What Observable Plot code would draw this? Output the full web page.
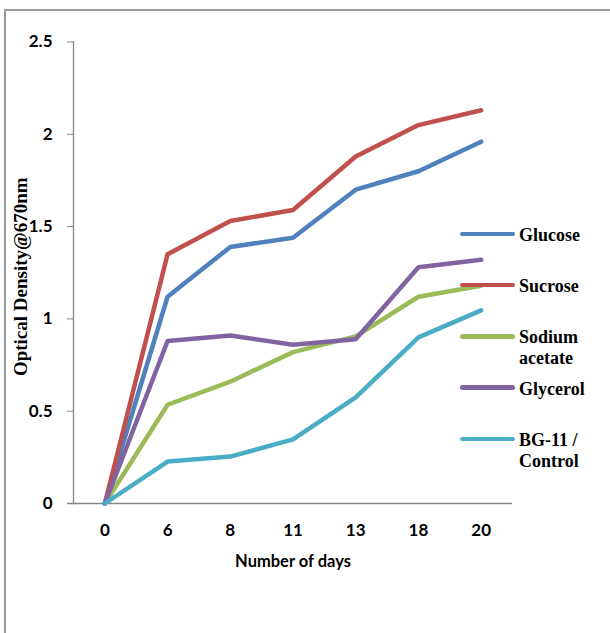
<!DOCTYPE html>
<html><head><meta charset="utf-8">
<script src="https://cdn.jsdelivr.net/npm/d3@7"></script>
<script src="https://cdn.jsdelivr.net/npm/@observablehq/plot@0.6"></script>
<style>
body{margin:0;background:#fff;}
#wrap{position:relative;width:610px;height:633px;overflow:hidden;background:#fff;}
#frame{position:absolute;left:4px;top:9px;width:800px;height:800px;border-top:2px solid #9a9a9a;border-left:2px solid #9a9a9a;}
#chart{position:absolute;left:0;top:0;}
#legend{position:absolute;left:460px;top:0;font-family:"Liberation Serif";font-weight:bold;font-size:18px;color:#000;}
.swatch{position:absolute;left:0;width:55px;height:4.5px;border-radius:3px;}
.lbl{position:absolute;left:59px;line-height:21px;white-space:nowrap;}
</style></head><body>
<div id="wrap"><div id="frame"></div><div id="chart"></div><div id="legend"></div></div>
<script>
const days = ["0","6","8","11","13","18","20"];
const seriesNames = ["Glucose","Sucrose","Sodium acetate","Glycerol","BG-11 / Control"];
const legendLabels = [["Glucose"],["Sucrose"],["Sodium","acetate"],["Glycerol"],["BG-11 /","Control"]];
const colors = ["#4F81BD","#C0504D","#9BBB59","#8064A2","#4BACC6"];
const glucose = [0,1.12,1.39,1.44,1.70,1.80,1.96];
const sucrose = [0,1.35,1.53,1.59,1.88,2.05,2.13];
const sodiumAcetate = [0,0.535,0.66,0.82,0.905,1.12,1.18];
const glycerol = [0,0.88,0.91,0.86,0.89,1.28,1.32];
const bg11 = [0,0.227,0.254,0.347,0.575,0.90,1.046];
const yTicks = [0,0.5,1,1.5,2,2.5];
const xTitle = "Number of days";
const yTitle = "Optical Density@670nm";

const allSeries = [glucose, sucrose, sodiumAcetate, glycerol, bg11];
const data = [];
allSeries.forEach((vals,i)=>vals.forEach((v,j)=>data.push({day:days[j], value:v, series:seriesNames[i]})));

const axisColor = "#868686";
const tickFont = "Lato, 'Open Sans', sans-serif";
const plot = Plot.plot({
  width:610, height:633,
  marginLeft:73, marginRight:98, marginTop:41.5, marginBottom:130,
  x:{type:"point", domain:days, padding:0.5, round:false},
  y:{domain:[0,2.5]},
  color:{domain:seriesNames, range:colors},
  style:{background:"transparent", overflow:"visible"},
  marks:[
    Plot.frame({anchor:"left", stroke:axisColor, strokeWidth:1.3}),
    Plot.ruleY([0], {stroke:axisColor, strokeWidth:1.5, insetLeft:-6}),
    Plot.axisY({ticks:yTicks, tickSize:6, tickPadding:15, tickFormat:d=>String(d), stroke:axisColor, fontSize:17, fontWeight:"bold", fontFamily:tickFont, label:null}),
    Plot.axisX({tickSize:0, tickPadding:20, fontSize:17, fontWeight:"bold", fontFamily:tickFont, label:null}),
    Plot.line(data, {x:"day", y:"value", stroke:"series", z:"series", strokeWidth:4.5, strokeLinecap:"round", strokeLinejoin:"round"}),
    Plot.text([xTitle], {frameAnchor:"bottom", dy:58, lineAnchor:"middle", textAnchor:"middle", fontSize:16.5, fontWeight:"bold", fontFamily:tickFont, fill:"#000"}),
    Plot.text([yTitle], {frameAnchor:"left", rotate:-90, dx:-53, dy:4, lineAnchor:"middle", textAnchor:"middle", fontSize:19, fontWeight:"bold", fontFamily:"Liberation Serif", fill:"#000"})
  ]
});
document.getElementById("chart").appendChild(plot);

const leg = document.getElementById("legend");
legendLabels.forEach((lines,i)=>{
  const rowY = 234 + i*51.2;
  const sw = document.createElement("div");
  sw.className = "swatch";
  sw.style.top = (rowY-2.25)+"px";
  sw.style.background = colors[i];
  leg.appendChild(sw);
  const lb = document.createElement("div");
  lb.className = "lbl";
  lb.style.top = (rowY-9)+"px";
  lb.innerHTML = lines.join("<br>");
  leg.appendChild(lb);
});
</script>
</body></html>
